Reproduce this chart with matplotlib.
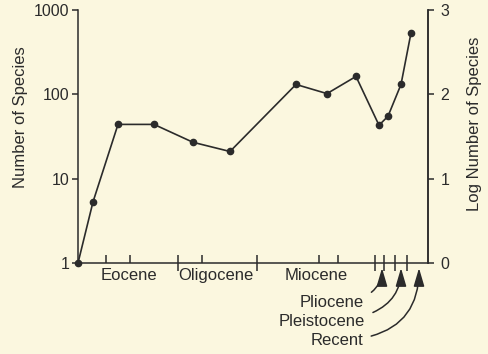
import matplotlib.pyplot as plt
import numpy as np

plt.rcParams['font.family'] = ['Liberation Sans', 'DejaVu Sans']

# time axis (arbitrary units, left = oldest) and species counts
x_time = [0, 15, 40, 76, 115, 152, 218, 249, 278, 301, 310, 323, 333]
n_species = [1, 5.3, 44, 44, 27, 21, 131, 102, 163, 43, 55, 131, 535]

epoch_names = ['Eocene', 'Oligocene', 'Miocene']
epoch_label_x = [51, 138, 238]
boundary_ticks = [100, 179, 297, 306, 317, 329]
inner_ticks = [28, 52, 124, 241, 260]

late_epochs = ['Pliocene', 'Pleistocene', 'Recent']
late_arrow_x = [304, 323, 341]
late_text_x = [286, 287, 285]
late_text_y = [-0.155, -0.23, -0.305]

bg = '#fbf7df'
ink = '#2b2b2b'

fig = plt.figure(figsize=(4.88, 3.54), dpi=100, facecolor=bg)
ax = fig.add_axes([78/488, 91/354, 350/488, 253/354], facecolor=bg)

ax.plot(x_time, n_species, '-o', color=ink, lw=1.2, ms=4.5, clip_on=False, zorder=5)
ax.set_yscale('log')
ax.set_ylim(1, 1000)
ax.set_xlim(0, 350)
ax.set_yticks([1, 10, 100, 1000])
ax.set_yticklabels(['1', '10', '100', '1000'])
ax.minorticks_off()

ax.set_xticks(boundary_ticks)
ax.set_xticklabels([])
ax.set_xticks(inner_ticks, minor=True)
ax.tick_params(axis='x', which='major', direction='inout', length=11, width=1.1, color=ink)
ax.tick_params(axis='x', which='minor', direction='in', length=6, width=1.1, color=ink)
ax.tick_params(axis='y', direction='out', length=4, width=1.1, color=ink,
               labelsize=11.5, labelcolor=ink, pad=2)

ax.spines['top'].set_visible(False)
for s in ['left', 'bottom', 'right']:
    ax.spines[s].set_linewidth(1.1)
    ax.spines[s].set_color(ink)

ax.set_ylabel('Number of Species', fontsize=12, color=ink)
ax.yaxis.set_label_coords(-0.143, 0.577)

ax2 = ax.twinx()
ax2.set_ylim(0, 3)
ax2.set_yticks([0, 1, 2, 3])
ax2.tick_params(axis='y', direction='out', length=4, width=1.1, color=ink,
                labelsize=11.5, labelcolor=ink, pad=5)
for s in ['top', 'left', 'bottom']:
    ax2.spines[s].set_visible(False)
ax2.spines['right'].set_linewidth(1.1)
ax2.spines['right'].set_color(ink)
ax2.set_ylabel('Log Number of Species', fontsize=12, color=ink)
ax2.yaxis.set_label_coords(1.11, 0.55)

for name, xl in zip(epoch_names, epoch_label_x):
    ax.text(xl, -0.05, name, transform=ax.get_xaxis_transform(), ha='center', va='center',
            fontsize=12, color=ink)

for name, xa, xt, yt in zip(late_epochs, late_arrow_x, late_text_x, late_text_y):
    ax.annotate(name, xy=(xa, -0.02), xytext=(xt, yt),
                xycoords=ax.get_xaxis_transform(), textcoords=ax.get_xaxis_transform(),
                ha='right', va='center', fontsize=12, color=ink,
                arrowprops=dict(arrowstyle='-|>,head_length=0.85,head_width=0.25',
                                connectionstyle='angle3,angleA=0,angleB=90', color=ink, lw=1.1,
                                shrinkA=4, shrinkB=0, mutation_scale=13))

fig.savefig('out.png', dpi=100, facecolor=bg)
